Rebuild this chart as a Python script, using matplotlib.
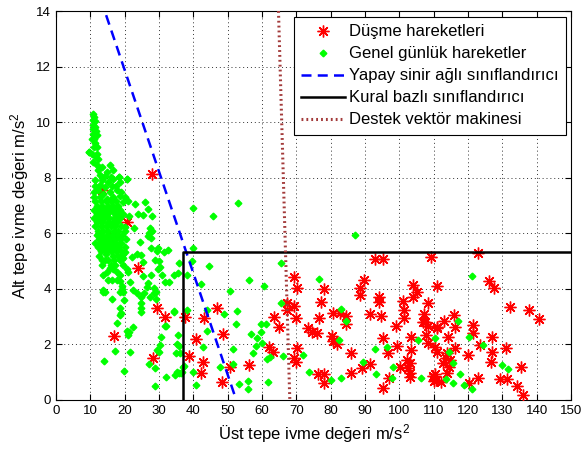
import matplotlib
matplotlib.use("Agg")
import matplotlib.pyplot as plt

plt.rcParams['font.family'] = ['Liberation Sans', 'DejaVu Sans']
plt.rcParams['mathtext.fontset'] = 'custom'
plt.rcParams['mathtext.rm'] = 'Liberation Sans'

# ---------------- data ----------------
x_ticks = list(range(0, 151, 10))
y_ticks = list(range(0, 15, 2))

legend_labels = ["Düşme hareketleri", "Genel günlük hareketler",
                 "Yapay sinir ağlı sınıflandırıcı", "Kural bazlı sınıflandırıcı",
                 "Destek vektör makinesi"]

# Fall events (red asterisks)
fall_left = [(27.9, 8.15), (24.0, 4.76), (20.6, 6.4), (16.6, 5.9), (13.4, 7.55),
             (16.9, 2.31), (29.5, 3.32), (31.8, 3.0), (37.6, 2.97), (28.2, 1.52), (38.8, 1.59),
             (47.0, 3.30), (43.2, 2.94), (48.7, 2.36), (40.8, 2.21), (50.7, 1.2), (56.2, 1.26),
             (42.9, 1.38), (42.2, 0.98), (48.4, 0.64)]
fall_mid = [(69.3, 4.41), (70.1, 4.02), (67.2, 3.48), (69.4, 3.38), (67.2, 3.24), (69.9, 2.96),
            (63.5, 3.0), (65.0, 2.64), (62.1, 1.89), (63.1, 1.73), (70.1, 1.86), (69.4, 1.52),
            (69.8, 1.36), (73.5, 2.58), (74.5, 2.46), (75.9, 2.42), (76.7, 2.96), (77.1, 3.54),
            (78.1, 3.99), (80.8, 3.12), (82.7, 3.12), (84.5, 3.03), (84.4, 2.72), (80.3, 2.31),
            (80.8, 2.12), (81.9, 2.0), (85.9, 1.70), (76.4, 0.92), (78.1, 0.92), (78.1, 0.62),
            (85.9, 0.96), (89.0, 1.16), (91.5, 1.28), (88.4, 4.02), (88.4, 3.78), (89.8, 4.32),
            (91.5, 3.09), (92.9, 5.06), (95.3, 5.06), (94.1, 3.72), (94.1, 3.54), (94.7, 3.03),
            (95.3, 2.22), (96.7, 1.70), (97.1, 0.78), (95.3, 0.44), (98.9, 2.67), (99.2, 1.94)]
fall_right = [(101.2, 3.57), (101.4, 3.24), (101.4, 2.94), (104.1, 4.14), (105.2, 3.87),
              (103.9, 3.72), (108.4, 3.5), (110.9, 4.11), (109.1, 5.13), (107.2, 3.09),
              (107.5, 2.79), (108.4, 2.67), (110.9, 2.62), (103.4, 1.8), (107.8, 2.34),
              (108.4, 2.04), (110.4, 1.92), (110.9, 1.71), (102.3, 1.44), (103.1, 1.32),
              (102.4, 1.16), (100.2, 1.17), (103.0, 0.98), (103.2, 0.84), (110.4, 0.92),
              (110.7, 0.72), (103.3, 2.26), (107.0, 2.82), (122.8, 5.3), (126.1, 4.29),
              (127.7, 4.02), (132.2, 3.36), (137.7, 3.24), (140.7, 2.90), (115.9, 3.06),
              (113.0, 2.85), (116.2, 2.64), (111.1, 2.6), (121.4, 2.70), (121.4, 2.42),
              (114.3, 2.26), (127.0, 2.26), (123.5, 1.98), (116.2, 1.86), (113.8, 1.68),
              (126.9, 1.74), (131.1, 1.86), (113.6, 1.52), (114.8, 1.44), (112.6, 1.32),
              (120.1, 1.62), (126.7, 1.38), (114.6, 1.2), (113.8, 0.98), (109.9, 0.86),
              (110.1, 0.69), (112.1, 0.64), (120.3, 0.6), (122.8, 0.78), (129.3, 0.76),
              (131.3, 0.76), (135.4, 1.2), (134.2, 0.5), (136.1, 0.18)]

# Daily activities (green dots)
daily_column = [(10.9, 10.31), (11.1, 10.19), (10.7, 10.07), (11.4, 10.05), (10.9, 9.89),
                (11.4, 9.83), (10.7, 9.74), (11.7, 9.69), (10.9, 9.59), (11.9, 9.53),
                (11.1, 9.41), (10.4, 9.38), (11.4, 9.26), (11.1, 9.11), (11.9, 9.11),
                (9.7, 8.93), (10.4, 8.87), (9.5, 8.93), (11.9, 8.85), (11.4, 8.78),
                (12.3, 8.66), (10.9, 8.57), (11.9, 8.45), (13.3, 8.39), (15.7, 8.45),
                (12.3, 8.27), (14.8, 8.21), (16.7, 8.27), (12.8, 8.09), (14.3, 8.06),
                (15.9, 8.03), (18.4, 8.03), (18.3, 8.03), (13.3, 7.91), (15.2, 7.85),
                (16.7, 7.94), (18.6, 7.85), (20.6, 7.94), (20.7, 7.97), (11.5, 7.9),
                (12.8, 7.73), (14.3, 7.65), (16.2, 7.7), (11.3, 7.7), (17.5, 7.7),
                (12.3, 7.55), (13.8, 7.43), (15.7, 7.49), (17.7, 7.55), (11.0, 7.5),
                (19.0, 7.5), (12.8, 7.31), (14.8, 7.25), (16.7, 7.31), (18.6, 7.34),
                (11.0, 7.29), (20.0, 7.3)]
daily_cluster = [(11.5, 7.15), (13.0, 7.15), (14.5, 7.15), (16.0, 7.15), (17.5, 7.15),
                 (19.6, 7.11), (21.1, 7.16), (25.9, 7.13), (12.0, 7.0), (13.5, 7.0),
                 (15.0, 7.0), (16.5, 7.0), (18.0, 7.0), (22.9, 7.04), (11.0, 6.85),
                 (12.8, 6.85), (14.2, 6.85), (15.8, 6.85), (17.2, 6.85), (18.6, 6.83),
                 (26.9, 6.87), (11.8, 6.7), (13.3, 6.7), (14.8, 6.7), (16.7, 6.75),
                 (17.8, 6.7), (19.5, 6.7), (21.4, 6.63), (24.0, 6.71), (25.3, 6.65),
                 (11.2, 6.55), (12.5, 6.55), (14.0, 6.55), (15.5, 6.55), (17.0, 6.55),
                 (18.5, 6.55), (28.0, 6.62), (12.0, 6.4), (13.5, 6.4), (15.0, 6.4),
                 (16.5, 6.4), (17.8, 6.41), (20.1, 6.24), (11.5, 6.25), (13.0, 6.25),
                 (14.5, 6.25), (16.0, 6.25), (17.2, 6.25), (18.8, 6.25), (22.8, 6.18),
                 (12.2, 6.1), (13.8, 6.1), (15.2, 6.1), (16.8, 6.1), (18.2, 6.1),
                 (20.0, 6.1), (27.4, 6.18), (27.9, 6.08), (11.8, 5.95), (13.2, 5.95),
                 (14.8, 5.95), (16.2, 5.95), (17.7, 5.95), (19.2, 5.95), (27.0, 6.02),
                 (26.9, 5.91), (12.5, 5.8), (14.0, 5.8), (15.5, 5.8), (17.0, 5.8),
                 (18.5, 5.8), (20.3, 5.8), (27.6, 5.82), (11.5, 5.65), (13.0, 5.65),
                 (14.5, 5.65), (16.0, 5.65), (17.5, 5.65), (19.0, 5.65), (24.5, 5.69),
                 (12.2, 5.5), (13.8, 5.5), (15.2, 5.5), (16.8, 5.5), (18.2, 5.5),
                 (20.0, 5.5), (29.8, 5.48), (27.6, 5.46), (13.0, 5.35), (14.5, 5.35),
                 (16.0, 5.35), (17.5, 5.35), (19.0, 5.35), (20.2, 5.33), (29.4, 5.36),
                 (31.4, 5.33), (32.7, 5.4), (12.5, 5.2), (14.6, 5.25), (16.5, 5.2),
                 (18.0, 5.2), (19.6, 5.24), (22.2, 5.16), (24.7, 5.23), (23.6, 5.27),
                 (13.5, 5.05), (15.2, 5.05), (17.0, 5.05), (18.5, 5.05), (14.3, 5.04),
                 (19.6, 5.1), (13.3, 4.86), (16.0, 4.86), (17.2, 4.86), (19.5, 4.86),
                 (15.7, 4.76), (16.7, 4.71), (20.6, 4.71), (17.7, 4.62), (21.1, 4.62),
                 (14.8, 4.62), (18.6, 4.5), (13.8, 4.5), (25.4, 4.47), (27.6, 4.5),
                 (30.8, 4.5), (35.6, 4.56), (16.2, 4.32), (17.7, 4.32), (15.0, 4.32),
                 (18.6, 4.28), (21.6, 4.23), (33.0, 4.23), (26.9, 4.2), (30.3, 4.8),
                 (30.1, 5.0), (19.1, 3.99), (13.6, 3.96), (22.5, 3.96), (19.6, 3.9),
                 (14.3, 3.87)]
daily_low_left = [(16.3, 3.62), (13.7, 3.9), (18.7, 3.3), (19.9, 3.6), (18.6, 3.88),
                  (18.5, 3.06), (17.8, 2.76), (20.7, 2.49), (21.1, 2.34), (22.4, 2.61),
                  (24.9, 3.3), (24.8, 3.18), (23.6, 3.85), (25.5, 3.86), (26.5, 4.08),
                  (28.4, 4.02), (28.4, 3.84), (27.5, 3.72), (31.8, 4.23), (34.3, 4.5),
                  (29.6, 4.71), (28.9, 5.04), (25.2, 4.96), (34.3, 3.18), (32.0, 2.66),
                  (30.6, 2.28), (30.2, 1.98), (29.9, 1.74), (27.0, 1.29), (28.9, 1.14),
                  (28.9, 0.5), (32.1, 0.84), (17.1, 1.77), (21.5, 1.74), (19.7, 1.05),
                  (13.9, 1.41), (35.4, 2.34), (35.2, 2.01), (36.0, 1.68), (34.8, 0.9),
                  (35.2, 1.02), (35.7, 4.92), (19.2, 4.1), (24.7, 3.72), (24.7, 3.48),
                  (29.1, 3.65), (29.1, 3.87), (18.9, 3.12), (21.3, 2.44), (31.7, 2.67),
                  (34.5, 3.2), (35.9, 1.95), (29.5, 1.8), (35.0, 1.68), (35.8, 0.96),
                  (36.6, 0.99), (37.3, 1.22)]
daily_spread = [(53.1, 7.1), (45.8, 6.62), (39.8, 6.9), (40.0, 5.46), (44.7, 4.83),
                (39.5, 5.01), (38.1, 4.5), (42.2, 4.16), (50.7, 3.93), (56.3, 4.32),
                (60.7, 4.11), (65.5, 4.94), (65.4, 3.48), (38.2, 3.24), (43.9, 3.24),
                (52.6, 3.2), (49.0, 3.08), (52.3, 2.72), (59.7, 2.72), (61.1, 2.72),
                (43.9, 2.49), (56.8, 2.37), (59.6, 2.43), (58.6, 2.22), (58.2, 1.94),
                (42.7, 1.92), (51.5, 1.82), (59.9, 2.04), (57.3, 1.68), (62.3, 1.54),
                (61.5, 1.46), (66.2, 1.59), (37.1, 1.2), (47.8, 1.2), (51.6, 1.29),
                (40.0, 1.02), (36.4, 0.98), (56.0, 0.69), (61.8, 0.66), (53.4, 0.58),
                (40.8, 0.54), (56.0, 0.38), (87.1, 5.94), (76.7, 4.34), (82.9, 3.27),
                (84.5, 2.85), (82.5, 2.16), (71.9, 1.62), (89.5, 1.36), (73.8, 1.02),
                (80.0, 0.72), (82.9, 0.8), (121.1, 4.46), (117.2, 2.85), (105.3, 2.16),
                (110.5, 2.24), (120.3, 2.28), (124.5, 1.97), (92.9, 1.82), (96.3, 1.92),
                (114.5, 1.74), (115.7, 1.32), (98.3, 1.18), (93.2, 0.94), (98.0, 0.78),
                (106.2, 0.78), (113.6, 0.74), (115.7, 0.62), (117.7, 0.92), (118.8, 0.54),
                (121.1, 0.38), (129.8, 1.26), (131.6, 1.1)]

# Classifier boundaries
ann_x = [14.6, 52.5]
ann_y = [13.85, 0.0]
rule_x = [37.0, 37.0, 150.0]
rule_y = [0.0, 5.33, 5.33]
svm_x = [64.8, 68.1]
svm_y = [14.0, 0.0]

# ---------------- plot ----------------
fall = fall_left + fall_mid + fall_right
daily = daily_column + daily_cluster + daily_low_left + daily_spread

fig = plt.figure(figsize=(5.81, 4.51), dpi=100)
ax = fig.add_axes([56 / 581, 51 / 451, 515 / 581, 389 / 451])

star = (8, 2, 0)
ax.plot([p[0] for p in fall], [p[1] for p in fall], linestyle='none', marker=star,
        markersize=8.5, markeredgewidth=1.0, color='#ff0000', markeredgecolor='#ff0000',
        label=legend_labels[0], zorder=3)
ax.plot([p[0] for p in daily], [p[1] for p in daily], linestyle='none', marker='D',
        markersize=3.4, color='#00ff00', markeredgecolor='#00ff00',
        label=legend_labels[1], zorder=4)
ax.plot(ann_x, ann_y, linestyle=(0, (4, 2.5)), color='#0000ff', linewidth=1.8,
        label=legend_labels[2], zorder=5)
ax.plot(rule_x, rule_y, linestyle='-', color='black', linewidth=1.8,
        label=legend_labels[3], zorder=5)
ax.plot(svm_x, svm_y, linestyle=(0, (0.6, 1.0)), color='#a33a3a', linewidth=2.2,
        label=legend_labels[4], zorder=5)

ax.set_xlim(0, 150)
ax.set_ylim(0, 14)
ax.set_xticks(x_ticks)
ax.set_yticks(y_ticks)
ax.tick_params(direction='in', length=4, top=True, right=True, labelsize=9.5, width=0.8)
ax.grid(True, linestyle=(0, (1, 3)), color='0.2', linewidth=0.7)
ax.set_axisbelow(True)
for s in ax.spines.values():
    s.set_linewidth(0.8)

ax.set_xlabel('Üst tepe ivme değeri m/s$\\mathregular{^2}$', fontsize=12, labelpad=4)
ax.set_ylabel('Alt tepe ivme değeri m/s$\\mathregular{^2}$', fontsize=12, labelpad=4)

leg = ax.legend(loc='upper right', bbox_to_anchor=(0.99, 0.985), fontsize=12,
                numpoints=1, handlelength=2.6, handletextpad=0.25, labelspacing=0.42,
                borderpad=0.45, fancybox=False, framealpha=1, edgecolor='black',
                borderaxespad=0)
leg.get_frame().set_linewidth(0.8)

fig.savefig('out.png', dpi=100)
